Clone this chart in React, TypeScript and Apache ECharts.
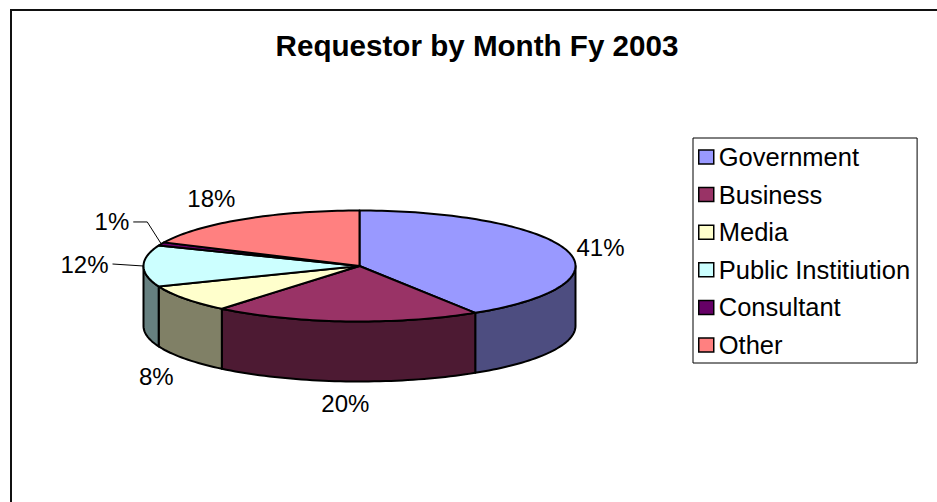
import React, { useEffect, useRef } from 'react';
import * as echarts from 'echarts';

// ---- data ----
const title = 'Requestor by Month Fy 2003';
const categories = ['Government', 'Business', 'Media', 'Public Institiution', 'Consultant', 'Other'];
const values = [41, 20, 8, 12, 1, 18];
const topColors = ['#9999FF', '#993366', '#FFFFCC', '#CCFFFF', '#660066', '#FF8080'];
const sideColors = ['#4D4D80', '#4D1A33', '#808066', '#668080', '#330033', '#804040'];

// ---- geometry / style (not data) ----
const CX = 359.5;
const CY = 266;
const RX = 216;
const RY = 55.5;
const DEPTH = 60;
const FONT = 'Arial, "Liberation Sans", sans-serif';
// label placement per slice: 'radial' or leader with relative points from the rim point
const labelLayout: any[] = [
  { mode: 'radial' },
  { mode: 'radial' },
  { mode: 'radial' },
  { mode: 'leader', pts: [[-31, -2]] },
  { mode: 'leader', pts: [[-14, -22], [-28, -22]] },
  { mode: 'radial' },
];

const total = values.reduce((a, b) => a + b, 0);
const starts: number[] = [];
{
  let acc = 0;
  for (const v of values) {
    starts.push((acc / total) * Math.PI * 2);
    acc += v;
  }
}

function pt(theta: number, dx = 0, dy = 0, down = 0): number[] {
  return [CX + (RX + dx) * Math.sin(theta), CY - (RY + dy) * Math.cos(theta) + down];
}

function makeRender(i: number) {
  return function (params: any, api: any) {
    const v = api.value(0);
    const a1 = starts[i];
    const a2 = a1 + (v / total) * Math.PI * 2;
    const children: any[] = [];
    // side wall, visible only on the front half (90deg..270deg)
    const s = Math.max(a1, Math.PI / 2);
    const e = Math.min(a2, (Math.PI * 3) / 2);
    if (e > s) {
      const n = Math.max(2, Math.ceil(((e - s) / Math.PI) * 120));
      const poly: number[][] = [];
      for (let k = 0; k <= n; k++) poly.push(pt(s + ((e - s) * k) / n));
      for (let k = n; k >= 0; k--) poly.push(pt(s + ((e - s) * k) / n, 0, 0, DEPTH));
      children.push({
        type: 'polygon',
        shape: { points: poly },
        style: { fill: sideColors[i], stroke: '#000', lineWidth: 2, lineJoin: 'round' },
        z2: 1,
      });
    }
    // top face
    const n2 = Math.max(2, Math.ceil(((a2 - a1) / Math.PI) * 120));
    const top: number[][] = [[CX, CY]];
    for (let k = 0; k <= n2; k++) top.push(pt(a1 + ((a2 - a1) * k) / n2));
    children.push({
      type: 'polygon',
      shape: { points: top },
      style: { fill: topColors[i], stroke: '#000', lineWidth: 2, lineJoin: 'round' },
      z2: 5,
    });
    // label
    const mid = (a1 + a2) / 2;
    const txt = Math.round((v / total) * 100) + '%';
    const lay = labelLayout[i];
    if (lay.mode === 'radial') {
      const sn = Math.sin(mid);
      const cs = Math.cos(mid);
      const p = pt(mid, 10, 10, cs < 0 ? DEPTH : 0);
      const align = sn > 0.3 ? 'left' : sn < -0.3 ? 'right' : 'center';
      const valign = cs > 0.3 ? 'bottom' : cs < -0.3 ? 'top' : 'middle';
      children.push({
        type: 'text',
        x: p[0] + (align === 'right' ? -3 : 0),
        y: p[1],
        style: { text: txt, fill: '#000', font: `24px ${FONT}`, align, verticalAlign: valign },
        z2: 10,
      });
    } else {
      const rim = pt(mid);
      const pts = [rim, ...lay.pts.map((d: number[]) => [rim[0] + d[0], rim[1] + d[1]])];
      children.push({
        type: 'polyline',
        shape: { points: pts },
        style: { stroke: '#000', lineWidth: 1, fill: null },
        z2: 10,
      });
      const last = pts[pts.length - 1];
      children.push({
        type: 'text',
        x: last[0] - 4,
        y: last[1],
        style: { text: txt, fill: '#000', font: `24px ${FONT}`, align: 'right', verticalAlign: 'middle' },
        z2: 10,
      });
    }
    return { type: 'group', children };
  };
}

export default function App() {
  const ref = useRef<HTMLDivElement>(null);
  useEffect(() => {
    document.body.style.margin = '0';
    const chart = echarts.init(ref.current!, null, { renderer: 'svg' });
    chart.setOption({
      animation: false,
      backgroundColor: '#fff',
      title: {
        text: title,
        left: 477,
        top: 30,
        textAlign: 'center',
        padding: 0,
        textStyle: { fontFamily: FONT, fontWeight: 'bold', fontSize: 29.6, color: '#000' },
      },
      legend: {
        orient: 'vertical',
        left: 693,
        top: 138,
        padding: [6, 7, 5, 5],
        borderColor: '#000',
        borderWidth: 1,
        itemWidth: 15,
        itemHeight: 14,
        itemGap: 11.6,
        icon: 'rect',
        selectedMode: false,
        itemStyle: { borderColor: '#000', borderWidth: 1.5 },
        textStyle: { fontFamily: FONT, fontSize: 25.5, color: '#000', lineHeight: 24 },
        data: categories,
      },
      graphic: [
        {
          type: 'rect',
          silent: true,
          shape: { x: 11, y: 10, width: 2000, height: 2000 },
          style: { fill: 'none', stroke: '#111', lineWidth: 2 },
        },
      ],
      series: categories.map((name, i) => ({
        type: 'custom',
        name,
        coordinateSystem: 'none',
        itemStyle: { color: topColors[i] },
        data: [[values[i]]],
        renderItem: makeRender(i),
      })),
    });
    return () => chart.dispose();
  }, []);
  return <div ref={ref} style={{ width: 937, height: 502 }} />;
}
